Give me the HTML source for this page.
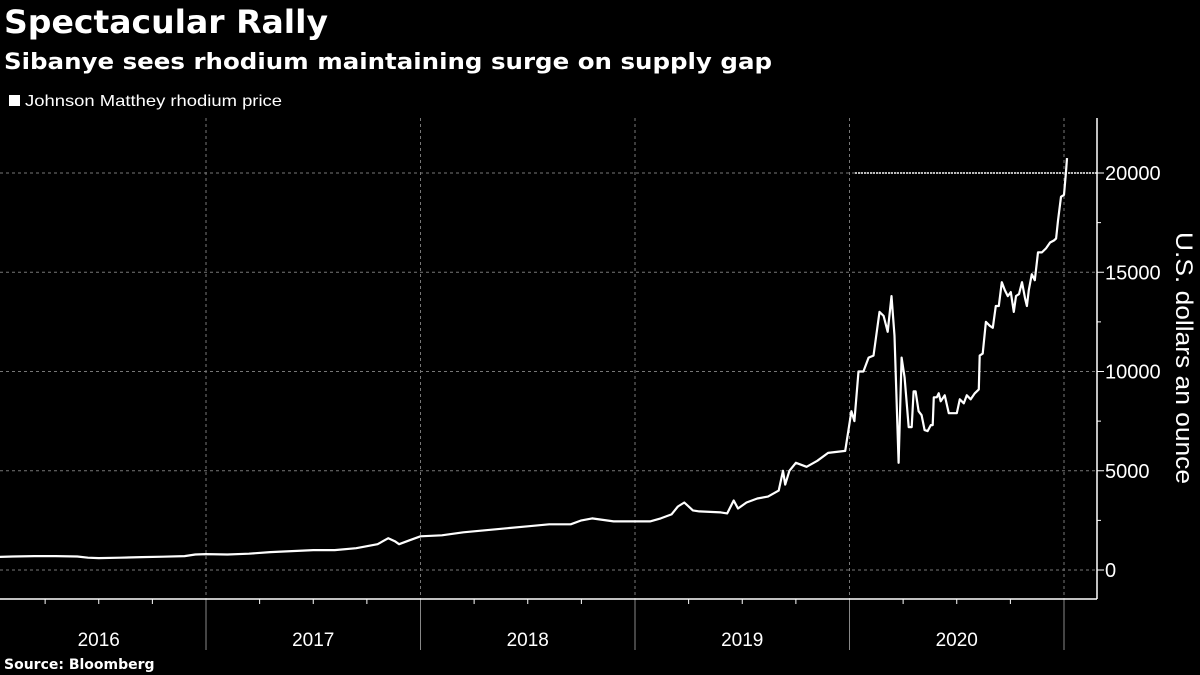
<!DOCTYPE html>
<html><head><meta charset="utf-8"><style>
html,body{margin:0;padding:0;background:#000;}
svg{display:block;}
</style></head><body>
<svg id="chart" width="1200" height="675" xmlns="http://www.w3.org/2000/svg" font-family="'Liberation Sans', sans-serif">
<rect width="1200" height="675" fill="#000"/>
<text x="4" y="33" fill="#fff" font-family="'DejaVu Sans', sans-serif" font-weight="bold" font-size="32" textLength="324" lengthAdjust="spacingAndGlyphs">Spectacular Rally</text>
<text x="4" y="69" fill="#fff" font-family="'DejaVu Sans', sans-serif" font-weight="bold" font-size="22" textLength="768" lengthAdjust="spacingAndGlyphs">Sibanye sees rhodium maintaining surge on supply gap</text>
<rect x="9" y="95" width="11" height="11" fill="#fff"/>
<text x="25" y="106" fill="#fff" font-size="16" textLength="257" lengthAdjust="spacingAndGlyphs">Johnson Matthey rhodium price</text>
<g id="grid"></g>
<g id="axes"></g>
<path id="line" fill="none" stroke="#fff" stroke-width="2.2" stroke-linejoin="round"/>
<text transform="translate(1176,358) rotate(90)" text-anchor="middle" fill="#fff" font-size="24" textLength="252" lengthAdjust="spacingAndGlyphs">U.S. dollars an ounce</text>
<text x="4" y="669" fill="#fff" font-family="'DejaVu Sans', sans-serif" font-weight="bold" font-size="14">Source: Bloomberg</text>
</svg>
<script>
const years = [2016, 2017, 2018, 2019, 2020];
const yTicks = [0, 5000, 10000, 15000, 20000];
const highlightLevel = 20000;
const dates = [2016.0,2016.1,2016.2,2016.3,2016.4,2016.45,2016.5,2016.6,2016.7,2016.8,2016.9,2016.95,
2017.0,2017.1,2017.2,2017.3,2017.4,2017.5,2017.6,2017.7,2017.75,2017.8,2017.85,2017.88,2017.9,2017.95,
2018.0,2018.1,2018.2,2018.3,2018.4,2018.5,2018.6,2018.7,2018.75,2018.8,2018.9,
2019.0,2019.07,2019.12,2019.17,2019.2,2019.23,2019.27,2019.3,2019.4,2019.43,2019.46,2019.48,2019.52,2019.57,2019.62,2019.67,2019.69,2019.7,2019.72,2019.75,2019.8,2019.85,2019.9,2019.98,
2020.009,2020.023,2020.042,2020.065,2020.089,2020.112,2020.14,2020.159,2020.178,2020.196,2020.21,2020.229,2020.243,2020.257,2020.276,2020.29,2020.299,2020.308,2020.322,2020.336,2020.35,2020.364,2020.379,2020.388,2020.393,2020.407,2020.416,2020.425,2020.444,2020.463,2020.481,2020.5,2020.514,2020.533,2020.547,2020.565,2020.584,2020.603,2020.607,2020.621,2020.636,2020.654,2020.668,2020.682,2020.696,2020.71,2020.724,2020.738,2020.752,2020.766,2020.776,2020.79,2020.804,2020.818,2020.827,2020.836,2020.85,2020.864,2020.879,2020.897,2020.916,2020.935,2020.953,2020.963,2020.972,2020.986,2021.0,2021.009,2021.014];
const prices = [650,680,700,700,680,620,600,620,650,670,700,780,
800,780,820,900,950,1000,1000,1100,1200,1300,1600,1450,1300,1500,
1700,1750,1900,2000,2100,2200,2300,2300,2500,2600,2450,
2450,2450,2600,2800,3200,3400,3000,2950,2900,2850,3500,3100,3400,3600,3700,4000,5000,4300,5000,5400,5200,5500,5900,6000,
8000,7500,10000,10000,10700,10800,13000,12800,12000,13800,11800,5400,10700,9700,7200,7200,9000,9000,8000,7800,7050,7000,7300,7300,8700,8700,8900,8500,8800,7900,7900,7900,8600,8400,8800,8600,8900,9100,10800,10900,12500,12300,12200,13300,13300,14500,14100,13800,14000,13000,13800,13900,14500,13700,13300,14100,14900,14600,16000,16000,16200,16500,16600,16700,17600,18800,18900,20000,20750];
const NS='http://www.w3.org/2000/svg';
const X0=206, PX_PER_YEAR=214.5, Y0=570, PX_PER_UNIT=397/20000;
const xs=t=>X0+(t-2017)*PX_PER_YEAR;
const ys=v=>Y0-v*PX_PER_UNIT;
const grid=document.getElementById('grid'), axes=document.getElementById('axes');
function mk(tag,attrs,parent){const e=document.createElementNS(NS,tag);for(const k in attrs)e.setAttribute(k,attrs[k]);parent.appendChild(e);return e;}
const PL=0, PR=1097, PT=118, PB=599;
yTicks.forEach(v=>{
  const g=mk('line',{x1:PL,x2:PR,y1:ys(v),y2:ys(v),stroke:'#777','stroke-width':1,'stroke-dasharray':'3,3'},grid);
  
  
  const t=mk('text',{x:1105,y:ys(v)+7,fill:'#fff','font-size':20},axes);
  t.textContent=v;
  
  
  mk('line',{x1:PR,x2:PR+7,y1:ys(v),y2:ys(v),stroke:'#fff','stroke-width':1},axes);
});
for(let v=2500;v<22500;v+=5000){mk('line',{x1:PR,x2:PR+4,y1:ys(v),y2:ys(v),stroke:'#fff','stroke-width':1},axes);}
const hl=mk('line',{x1:855,x2:PR,y1:ys(highlightLevel),y2:ys(highlightLevel),stroke:'#bbb','stroke-width':2,'stroke-dasharray':'2,1'},grid);


for(let y=2017;y<=2021;y++){
  const g=mk('line',{x1:xs(y),x2:xs(y),y1:PT,y2:PB,stroke:'#777','stroke-width':1,'stroke-dasharray':'3,3'},grid);
  
  
  const s=mk('line',{x1:xs(y),x2:xs(y),y1:PB,y2:650,stroke:'#888','stroke-width':1},axes);
  
  
}
for(let y=2016;y<2021;y++){for(let q=1;q<4;q++){mk('line',{x1:xs(y+q/4),x2:xs(y+q/4),y1:PB,y2:PB+5,stroke:'#fff','stroke-width':1},axes);}}
years.forEach(y=>{
  const t=mk('text',{x:xs(y+0.5),y:646,fill:'#fff','font-size':19,'text-anchor':'middle'},axes);
  t.textContent=y;
  
  
});
const xa=mk('line',{x1:0,x2:PR,y1:PB,y2:PB,stroke:'#fff','stroke-width':1.5},axes);


const ya=mk('line',{x1:PR,x2:PR,y1:PT,y2:PB,stroke:'#fff','stroke-width':1.5},axes);


document.getElementById('line').setAttribute('d',dates.map((t,i)=>(i?'L':'M')+xs(t).toFixed(1)+','+ys(prices[i]).toFixed(1)).join(''));
</script>
</body></html>
